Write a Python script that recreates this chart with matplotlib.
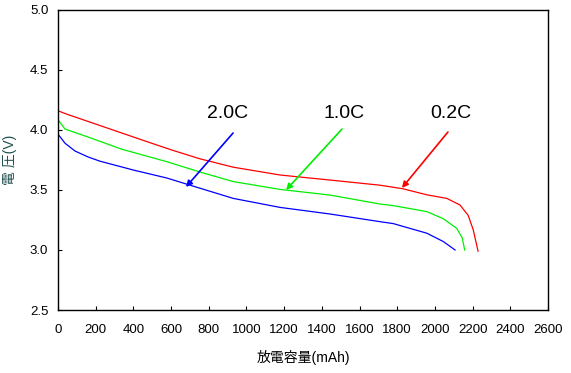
import matplotlib
matplotlib.use('Agg')
import matplotlib.pyplot as plt

plt.rcParams['font.family'] = ['Liberation Sans', 'Noto Sans CJK JP', 'DejaVu Sans']

# 0.2C discharge
cap_02 = [0, 50, 162, 338, 515, 610, 753, 930, 1178, 1443, 1709, 1831, 1957, 2063, 2133, 2176, 2203, 2229]
volt_02 = [4.16, 4.13, 4.07, 3.975, 3.88, 3.83, 3.76, 3.69, 3.625, 3.583, 3.54, 3.51, 3.46, 3.43, 3.375, 3.29, 3.17, 2.99]

# 1.0C discharge
cap_10 = [0, 37, 162, 338, 577, 753, 930, 1178, 1443, 1709, 1779, 1957, 2045, 2116, 2145, 2158]
volt_10 = [4.086, 4.008, 3.94, 3.84, 3.736, 3.65, 3.57, 3.505, 3.458, 3.383, 3.37, 3.32, 3.26, 3.18, 3.10, 3.0]

# 2.0C discharge
cap_20 = [0, 37, 90, 160, 223, 398, 577, 753, 930, 1178, 1443, 1709, 1779, 1957, 2045, 2107]
volt_20 = [3.965, 3.89, 3.825, 3.775, 3.74, 3.667, 3.60, 3.515, 3.43, 3.355, 3.30, 3.236, 3.22, 3.14, 3.07, 3.0]

labels = ['2.0C', '1.0C', '0.2C']
label_x = [902, 1518, 2085]
label_y = 4.14
arrow_from = [(929, 3.975), (1507, 4.008), (2069, 3.983)]
arrow_to = [(679, 3.525), (1210, 3.50), (1825, 3.517)]
colors = ['#0000ff', '#00ee00', '#ff0000']

fig = plt.figure(figsize=(5.71, 3.73), dpi=100)
ax = fig.add_axes([0.1016, 0.1689, 0.8581, 0.8043])

ax.plot(cap_02, volt_02, color='#ff0000', linewidth=0.9)
ax.plot(cap_10, volt_10, color='#00ee00', linewidth=0.9)
ax.plot(cap_20, volt_20, color='#0000ff', linewidth=0.9)

for lab, lx, a0, a1, c in zip(labels, label_x, arrow_from, arrow_to, colors):
    ax.text(lx, label_y, lab, ha='center', va='center', fontsize=14)
    ax.annotate('', xy=a1, xytext=a0,
                arrowprops=dict(arrowstyle='-|>', color=c, lw=1.2,
                                mutation_scale=9, shrinkA=0, shrinkB=0))

ax.set_xlim(0, 2600)
ax.set_ylim(2.5, 5.0)
ax.set_xticks(range(0, 2601, 200))
ax.set_yticks([2.5, 3.0, 3.5, 4.0, 4.5, 5.0])
ax.set_yticklabels(['2.5', '3.0', '3.5', '4.0', '4.5', '5.0'])
ax.tick_params(direction='in', length=3, width=0.8, labelsize=9.5)
ax.tick_params(axis='x', pad=10)
ax.tick_params(axis='y', pad=7)
for s in ax.spines.values():
    s.set_linewidth(1.0)

ax.set_xlabel('放電容量(mAh)', fontsize=10, labelpad=10)
ax.set_ylabel('電 圧(V)', fontsize=10, color='#1f4f4f', labelpad=9)

fig.savefig('out.png', dpi=100)
